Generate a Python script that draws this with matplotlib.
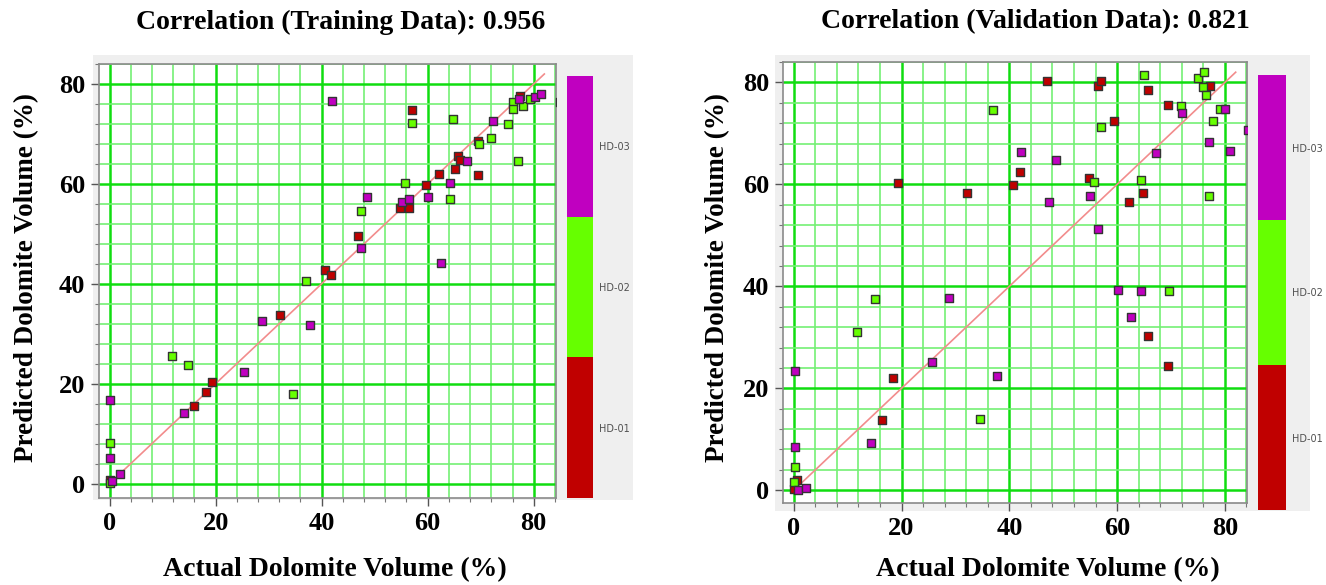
import matplotlib
matplotlib.use("Agg")
import matplotlib.pyplot as plt
import numpy as np
from matplotlib.colors import ListedColormap, BoundaryNorm
from matplotlib.patches import Rectangle
import matplotlib as mpl

# ---------------- data ----------------
wells = ["HD-01", "HD-02", "HD-03"]
well_colors = ["#c00000", "#66ff00", "#c000c0"]

# Training data (actual, predicted) per well
train_hd01_x = [57.1, 69.4, 77.5, 65.8, 66.0, 65.1, 69.4, 62.2, 59.6, 54.8, 56.5, 46.8, 40.6, 41.8, 32.1, 19.3, 18.2, 16.0, 0.1]
train_hd01_y = [74.7, 68.5, 77.6, 65.6, 64.8, 63.0, 61.7, 62.0, 59.7, 55.1, 55.1, 49.5, 42.7, 41.7, 33.7, 20.4, 18.3, 15.6, 0.8]
train_hd02_x = [57.0, 64.8, 75.2, 71.9, 69.6, 76.1, 76.1, 77.9, 79.3, 77.1, 55.7, 64.3, 47.4, 37.0, 11.8, 14.8, 34.5, 0.0, 0.0]
train_hd02_y = [72.1, 72.9, 72.0, 69.1, 68.0, 76.4, 74.9, 75.6, 76.9, 64.5, 60.1, 56.9, 54.6, 40.5, 25.5, 23.7, 17.9, 8.2, 0.1]
train_hd03_x = [41.9, 72.3, 77.2, 80.3, 81.3, 85.0, 67.4, 64.3, 60.1, 55.2, 56.5, 48.6, 47.4, 62.5, 28.7, 37.8, 25.3, 14.1, 0.0, 0.0, 1.9, 0.5]
train_hd03_y = [76.6, 72.6, 76.9, 77.4, 78.0, 76.3, 64.6, 60.2, 57.4, 56.3, 56.9, 57.4, 47.2, 44.1, 32.5, 31.7, 22.4, 14.1, 16.7, 5.1, 2.0, 0.5]

# Validation data (actual, predicted) per well
val_hd01_x = [46.9, 56.5, 57.0, 65.8, 77.3, 69.4, 59.5, 41.9, 19.4, 40.6, 32.1, 54.8, 64.8, 62.2, 65.7, 69.4, 18.5, 16.4, 0.6, 0.1]
val_hd01_y = [80.3, 79.3, 80.3, 78.6, 79.2, 75.5, 72.5, 62.4, 60.3, 59.8, 58.4, 61.2, 58.4, 56.5, 30.3, 24.4, 22.0, 13.7, 2.0, 0.2]
val_hd02_x = [64.9, 75.1, 76.1, 75.9, 76.4, 36.9, 71.9, 79.0, 77.7, 57.0, 55.7, 64.4, 77.0, 69.6, 15.0, 11.8, 34.6, 0.2, 0.1]
val_hd02_y = [81.4, 80.9, 82.0, 79.0, 77.5, 74.6, 75.3, 74.7, 72.5, 71.2, 60.5, 60.8, 57.8, 39.1, 37.6, 31.1, 13.9, 4.6, 1.6]
val_hd03_x = [72.1, 80.1, 84.3, 77.0, 81.0, 67.3, 42.1, 48.6, 54.9, 47.4, 56.4, 60.1, 64.4, 62.5, 28.8, 25.6, 37.8, 14.3, 0.2, 0.2, 0.7, 2.3]
val_hd03_y = [73.9, 74.7, 70.7, 68.4, 66.5, 66.1, 66.3, 64.7, 57.7, 56.5, 51.3, 39.3, 39.1, 33.9, 37.7, 25.1, 22.5, 9.2, 23.4, 8.4, 0.0, 0.4]

titles = ["Correlation (Training Data): 0.956", "Correlation (Validation Data): 0.821"]
xlabel = "Actual Dolomite Volume (%)"
ylabel = "Predicted Dolomite Volume (%)"
major_ticks = [0, 20, 40, 60, 80]

# ---------------- figure ----------------
W, H = 1326, 585
fig = plt.figure(figsize=(W / 100, H / 100), dpi=100)
fig.patch.set_facecolor("white")

serif = ["Liberation Serif", "DejaVu Serif"]


def px_rect(x0, y0, x1, y1):
    return [x0 / W, 1 - y1 / H, (x1 - x0) / W, (y1 - y0) / H]


panels = [
    dict(panel=(93, 55, 633, 500), ax=(99, 64, 556, 498), cb=(567, 76, 593, 498),
         xlim=(-2.0, 84.2), ylim=(-2.9, 83.9),
         data=[(train_hd01_x, train_hd01_y), (train_hd02_x, train_hd02_y), (train_hd03_x, train_hd03_y)],
         title_xy=(341, 22), xlab_xy=(335, 570), ylab_xy=(27, 278)),
    dict(panel=(775, 55, 1310, 511), ax=(783, 62, 1247, 503), cb=(1258, 75, 1286, 510),
         xlim=(-2.0, 84.1), ylim=(-2.5, 83.9),
         data=[(val_hd01_x, val_hd01_y), (val_hd02_x, val_hd02_y), (val_hd03_x, val_hd03_y)],
         title_xy=(1035, 22), xlab_xy=(1048, 570), ylab_xy=(718, 278)),
]

for i, p in enumerate(panels):
    x0, y0, x1, y1 = p["panel"]
    fig.patches.append(Rectangle((x0 / W, 1 - y1 / H), (x1 - x0) / W, (y1 - y0) / H,
                                 transform=fig.transFigure, facecolor="#efefef",
                                 edgecolor="none", zorder=-10))
    ax = fig.add_axes(px_rect(*p["ax"]))
    ax.set_facecolor("white")
    ax.set_xlim(*p["xlim"])
    ax.set_ylim(*p["ylim"])
    ax.set_xticks(major_ticks)
    ax.set_yticks(major_ticks)
    ax.set_xticks(np.arange(0, 85, 4), minor=True)
    ax.set_yticks(np.arange(0, 85, 4), minor=True)
    ax.grid(which="minor", color="#74f074", lw=1.2, zorder=0)
    ax.grid(which="major", color="#10dd10", lw=1.8, zorder=0)
    ax.set_axisbelow(True)
    for s in ax.spines.values():
        s.set_color("#8a8a8a")
        s.set_linewidth(1.2)
    ax.tick_params(which="major", length=6, width=1, color="#555555", labelsize=19, pad=4)
    ax.tick_params(which="minor", length=3, width=0.8, color="#777777")
    for lab in ax.get_xticklabels() + ax.get_yticklabels():
        lab.set_fontfamily(serif)
        lab.set_fontweight("bold")

    ax.plot([0, 82], [0, 82], color="#f28c8c", lw=1.2, zorder=2)
    for (xs, ys), c in zip(p["data"], well_colors):
        ax.scatter(xs, ys, marker="s", s=28, facecolor=c, edgecolor="#333333",
                   linewidths=1.0, zorder=3)

    tx, ty = p["title_xy"]
    fig.text(tx / W, 1 - ty / H, titles[i], ha="center", va="center",
             family=serif, fontweight="bold", fontsize=20)
    lx, ly = p["xlab_xy"]
    fig.text(lx / W, 1 - ly / H, xlabel, ha="center", va="center",
             family=serif, fontweight="bold", fontsize=20)
    yx, yy = p["ylab_xy"]
    fig.text(yx / W, 1 - yy / H, ylabel, ha="center", va="center", rotation=90,
             family=serif, fontweight="bold", fontsize=19.5)

    # colour bar of wells
    cax = fig.add_axes(px_rect(*p["cb"]))
    cmap = ListedColormap(well_colors)
    norm = BoundaryNorm([0, 1, 2, 3], cmap.N)
    cb = mpl.colorbar.ColorbarBase(cax, cmap=cmap, norm=norm, orientation="vertical")
    cb.set_ticks([0.5, 1.5, 2.5])
    cb.set_ticklabels(wells)
    cb.minorticks_off()
    cb.outline.set_visible(False)
    cax.tick_params(which="both", length=0, labelsize=7, labelcolor="#505050", pad=4)

fig.savefig("out.png", dpi=100, facecolor="white")
